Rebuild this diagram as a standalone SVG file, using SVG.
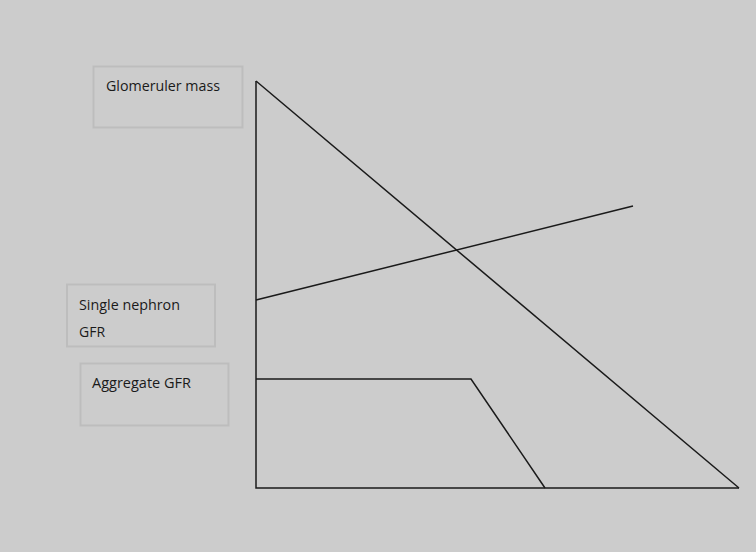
<svg xmlns="http://www.w3.org/2000/svg" width="756" height="552" viewBox="0 0 756 552">
<style>
.box{fill:none;stroke:#bdbdbd;stroke-width:2}
.lbl{font-family:"Open Sans","Liberation Sans",sans-serif;font-size:14px;fill:#1a1a1a}
.ln{fill:none;stroke:#1a1a1a;stroke-width:1.5;stroke-linejoin:miter}
</style>
<rect x="0" y="0" width="756" height="552" fill="#cccccc"/>
<g id="glomeruler-mass">
<rect class="box" x="93.5" y="66.5" width="149" height="61"/>
<text class="lbl" x="106" y="91" textLength="114" lengthAdjust="spacingAndGlyphs">Glomeruler mass</text>
</g>
<g id="single-nephron-gfr">
<rect class="box" x="67" y="284.5" width="148" height="62"/>
<text class="lbl" x="79" y="310" textLength="101" lengthAdjust="spacingAndGlyphs">Single nephron</text>
<text class="lbl" x="79" y="337">GFR</text>
</g>
<g id="aggregate-gfr">
<rect class="box" x="80.5" y="363.5" width="148" height="62"/>
<text class="lbl" x="92" y="388" textLength="99" lengthAdjust="spacingAndGlyphs">Aggregate GFR</text>
</g>
<g id="connectors">
<polyline class="ln" points="256,81 256,488 739,488"/>
<line class="ln" x1="256" y1="81" x2="739" y2="488"/>
<line class="ln" x1="256" y1="300" x2="633" y2="206"/>
<polyline class="ln" points="256,379 471,379 545,488"/>
</g>
</svg>
